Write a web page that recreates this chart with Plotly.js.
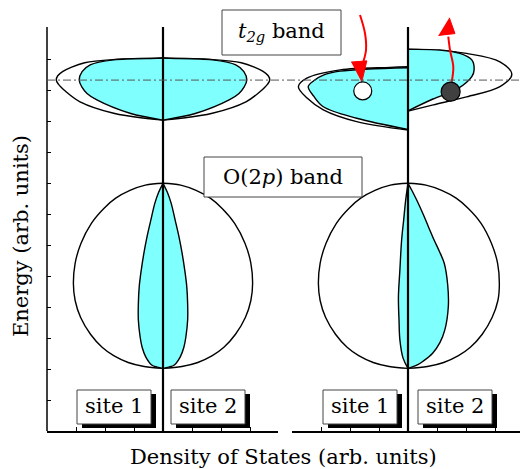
<!DOCTYPE html>
<html>
<head>
<meta charset="utf-8">
<script src="https://cdn.plot.ly/plotly-3.0.1.min.js"></script>
<style>html,body{margin:0;padding:0;background:#fff;}#chart{width:520px;height:469px;}</style>
</head>
<body>
<div id="chart"></div>
<script>
// ---- Band profiles: energy (arb.) and density of states (arb.) ----
// Left panel, t2g band (both sites identical)
const t2gOuterE = [10.03, 10.08, 10.25, 10.62, 10.95, 11.18, 11.32, 11.46, 11.60, 11.74, 11.88, 11.98, 12.03];
const t2gOuterD = [0, 0.55, 1.70, 2.86, 3.35, 3.60, 3.68, 3.63, 3.45, 3.15, 2.70, 1.72, 0];
const t2gFillE  = [10.03, 10.25, 10.68, 10.89, 11.10, 11.32, 11.59, 11.81, 11.97, 12.02, 12.03];
const t2gFillD  = [0, 1.14, 2.28, 2.62, 2.80, 2.89, 2.79, 2.51, 1.70, 0.21, 0];

// Right panel, t2g band, site 1 (shifted down) and site 2 (shifted up)
const s1t2gOuterE = [9.71, 9.98, 10.36, 10.74, 11.11, 11.38, 11.65, 11.73, 11.75];
const s1t2gOuterD = [0, 1.77, 2.92, 3.48, 3.78, 3.49, 2.34, 0.62, 0];
const s1t2gFillE  = [9.73, 10.09, 10.46, 10.80, 11.11, 11.30, 11.48, 11.61, 11.72];
const s1t2gFillD  = [0, 1.77, 2.92, 3.25, 3.44, 3.25, 2.92, 2.34, 0];
const s2t2gOuterE = [10.32, 10.52, 10.78, 11.11, 11.50, 11.91, 12.18, 12.29, 12.32];
const s2t2gOuterD = [0, 0.87, 2.02, 3.17, 3.58, 3.17, 2.02, 0.87, 0];
const s2t2gFillE  = [10.33, 10.71, 11.05, 11.43, 11.65, 11.97, 12.18, 12.29, 12.31];
const s2t2gFillD  = [0, 0.86, 1.73, 2.20, 2.28, 2.20, 1.79, 1.10, 0];

// O(2p) band: total (outer) and site-projected (filled)
const o2pOuterE = [2.02, 2.08, 2.21, 2.43, 2.70, 3.12, 3.66, 4.21, 4.76, 5.41, 6.05, 6.70, 7.18, 7.51, 7.76, 7.93, 7.99];
const o2pOuterD = [0, 0.65, 1.20, 1.70, 2.10, 2.50, 2.84, 3.03, 3.09, 3.03, 2.83, 2.47, 2.04, 1.63, 1.14, 0.61, 0];
const o2pRightD = [0, 0.67, 1.23, 1.74, 2.15, 2.56, 2.90, 3.10, 3.15, 3.09, 2.88, 2.52, 2.08, 1.66, 1.16, 0.62, 0];
const o2pFillE  = [2.02, 2.06, 2.13, 2.40, 2.70, 3.04, 3.58, 4.10, 4.65, 5.19, 5.73, 6.27, 6.80, 7.35, 7.70, 7.99];
const o2pFillD  = [0, 0.20, 0.39, 0.60, 0.72, 0.79, 0.85, 0.85, 0.82, 0.75, 0.66, 0.55, 0.42, 0.28, 0.15, 0];
const s1o2pFillE = [2.02, 2.35, 2.94, 3.58, 4.33, 5.19, 6.16, 6.80, 7.45, 7.99];
const s1o2pFillD = [0, 0.17, 0.28, 0.31, 0.33, 0.28, 0.22, 0.15, 0.08, 0];
const s2o2pFillE = [2.02, 2.13, 2.25, 2.51, 2.85, 3.26, 4.01, 4.70, 5.41, 5.80, 6.16, 6.60, 7.00, 7.45, 7.75, 7.99];
const s2o2pFillD = [0, 0.32, 0.52, 0.85, 1.10, 1.27, 1.39, 1.37, 1.25, 1.08, 0.90, 0.70, 0.52, 0.30, 0.14, 0];

const fermiE = 11.32;

// Hole / electron and their arrows (right panel)
const holeX = [-1.56], holeY = [10.97];
const elecX = [1.47],  elecY = [10.945];
const downArrowX = [-1.655, -1.483, -1.448, -1.541];
const downArrowY = [13.42, 12.83, 12.29, 11.91];
const downHeadX = [-1.96, -1.42, -1.597];
const downHeadY = [11.90, 11.94, 11.25];
const upArrowX = [1.507, 1.562, 1.448, 1.390];
const upArrowY = [11.26, 11.75, 12.29, 12.72];
const upHeadX = [1.05, 1.62, 1.424];
const upHeadY = [12.76, 12.82, 13.33];

// Labels
const siteLabels = ['site 1', 'site 2', 'site 1', 'site 2'];
const xTitle = 'Density of States (arb. units)';
const yTitle = 'Energy (arb. units)';

const cyan = '#80ffff';
const FONT = 'DejaVu Serif, Liberation Serif, serif';

function half(E, D, side, axis, filled) {
  return {
    x: D.map(d => side * d), y: E, xaxis: axis, yaxis: 'y',
    type: 'scatter', mode: 'lines',
    line: {shape: 'spline', smoothing: 1, color: 'black', width: 1.4},
    fill: filled ? 'toself' : 'none', fillcolor: cyan,
    hoverinfo: 'skip'
  };
}

const traces = [
  // left panel
  half(t2gOuterE, t2gOuterD, -1, 'x', false),
  half(t2gOuterE, t2gOuterD, 1, 'x', false),
  half(t2gFillE, t2gFillD, -1, 'x', true),
  half(t2gFillE, t2gFillD, 1, 'x', true),
  half(o2pOuterE, o2pOuterD, -1, 'x', false),
  half(o2pOuterE, o2pOuterD, 1, 'x', false),
  half(o2pFillE, o2pFillD, -1, 'x', true),
  half(o2pFillE, o2pFillD, 1, 'x', true),
  // right panel
  half(s1t2gOuterE, s1t2gOuterD, -1, 'x2', false),
  half(s2t2gOuterE, s2t2gOuterD, 1, 'x2', false),
  half(s1t2gFillE, s1t2gFillD, -1, 'x2', true),
  half(s2t2gFillE, s2t2gFillD, 1, 'x2', true),
  half(o2pOuterE, o2pOuterD, -1, 'x2', false),
  half(o2pOuterE, o2pRightD, 1, 'x2', false),
  half(s1o2pFillE, s1o2pFillD, -1, 'x2', true),
  half(s2o2pFillE, s2o2pFillD, 1, 'x2', true),
  // arrows
  {x: downArrowX, y: downArrowY, xaxis: 'x2', yaxis: 'y', type: 'scatter', mode: 'lines',
   line: {shape: 'spline', color: '#ff0000', width: 2}, hoverinfo: 'skip'},
  {x: downHeadX, y: downHeadY, xaxis: 'x2', yaxis: 'y', type: 'scatter', mode: 'lines',
   fill: 'toself', fillcolor: '#ff0000', line: {color: '#ff0000', width: 1}, hoverinfo: 'skip'},
  {x: upArrowX, y: upArrowY, xaxis: 'x2', yaxis: 'y', type: 'scatter', mode: 'lines',
   line: {shape: 'spline', color: '#ff0000', width: 2}, hoverinfo: 'skip'},
  {x: upHeadX, y: upHeadY, xaxis: 'x2', yaxis: 'y', type: 'scatter', mode: 'lines',
   fill: 'toself', fillcolor: '#ff0000', line: {color: '#ff0000', width: 1}, hoverinfo: 'skip'},
  // hole and electron
  {x: holeX, y: holeY, xaxis: 'x2', yaxis: 'y', type: 'scatter', mode: 'markers',
   marker: {size: 18, color: 'white', line: {color: 'black', width: 1.2}}, hoverinfo: 'skip'},
  {x: elecX, y: elecY, xaxis: 'x2', yaxis: 'y', type: 'scatter', mode: 'markers',
   marker: {size: 19, color: '#404040', line: {color: 'black', width: 1.2}}, hoverinfo: 'skip'}
];

// pixel helpers for label placement (plot area: x from 47px, 473px wide; y 0..431px)
const px = v => (v - 47) / 473;
const py = v => (431 - v) / 31;
const pp = v => (431 - v) / 431;

const shapes = [
  // y axis line
  {type: 'line', xref: 'paper', yref: 'y', x0: 0, x1: 0, y0: 0, y1: py(27), line: {color: 'black', width: 1.5}, layer: 'above'},
  // centre lines
  {type: 'line', xref: 'x', yref: 'y', x0: 0, x1: 0, y0: 0, y1: py(27), line: {color: 'black', width: 2.2}, layer: 'above'},
  {type: 'line', xref: 'x2', yref: 'y', x0: 0, x1: 0, y0: 0, y1: py(27), line: {color: 'black', width: 2.2}, layer: 'above'},
  // Fermi level
  {type: 'line', xref: 'paper', yref: 'y', x0: 0, x1: 1, y0: fermiE, y1: fermiE,
   line: {color: '#555', width: 1, dash: '8px,3px,2px,3px'}, layer: 'above'},
  // title boxes
  {type: 'rect', xref: 'paper', yref: 'y', x0: px(222), x1: px(341), y0: py(55), y1: py(10),
   line: {color: '#444', width: 1}, fillcolor: 'white', layer: 'above'},
  {type: 'rect', xref: 'paper', yref: 'y', x0: px(204), x1: px(362), y0: py(197), y1: py(157),
   line: {color: '#444', width: 1}, fillcolor: 'white', layer: 'above'}
];

const siteBoxX = [[77, 151], [171, 245], [323, 397], [418, 492]];
const annotations = [];
siteBoxX.forEach((b, i) => {
  shapes.push({type: 'rect', xref: 'paper', yref: 'y', x0: px(b[0] + 5), x1: px(b[1] + 5), y0: py(428), y1: py(394),
    line: {width: 0}, fillcolor: 'black', layer: 'above'});
  shapes.push({type: 'rect', xref: 'paper', yref: 'y', x0: px(b[0]), x1: px(b[1]), y0: py(424), y1: py(390),
    line: {color: '#444', width: 1}, fillcolor: 'white', layer: 'above'});
  annotations.push({xref: 'paper', yref: 'y', x: px((b[0] + b[1]) / 2), y: py(406), text: siteLabels[i],
    showarrow: false, font: {family: FONT, size: 21, color: 'black'}, xanchor: 'center', yanchor: 'middle'});
});

annotations.push(
  {xref: 'paper', yref: 'y', x: px(281.5), y: py(32), text: '<i>t</i><sub><i>2g</i></sub> band', showarrow: false,
   font: {family: FONT, size: 21, color: 'black'}, xanchor: 'center', yanchor: 'middle'},
  {xref: 'paper', yref: 'y', x: px(283), y: py(177), text: 'O(2<i>p</i>) band', showarrow: false,
   font: {family: FONT, size: 21, color: 'black'}, xanchor: 'center', yanchor: 'middle'},
  {xref: 'paper', yref: 'paper', x: px(283), y: pp(457), text: xTitle, showarrow: false,
   font: {family: FONT, size: 21, color: 'black'}, xanchor: 'center', yanchor: 'middle'},
  {xref: 'paper', yref: 'paper', x: px(21), y: pp(236), text: yTitle, showarrow: false, textangle: -90,
   font: {family: FONT, size: 21, color: 'black'}, xanchor: 'center', yanchor: 'middle'}
);

const xCommon = {
  showline: true, linecolor: 'black', linewidth: 1.5,
  ticks: 'inside', ticklen: 4, tickwidth: 1, tickcolor: 'black',
  tickvals: [-3, -2, -1, 0, 1, 2, 3], showticklabels: false,
  showgrid: false, zeroline: false, fixedrange: true, anchor: 'y'
};

const layout = {
  width: 520, height: 469,
  margin: {l: 47, r: 0, t: 0, b: 38},
  paper_bgcolor: 'white', plot_bgcolor: 'white',
  showlegend: false, hovermode: false,
  xaxis: Object.assign({}, xCommon, {domain: [0, 231 / 473], range: [-4, 115 / 29]}),
  xaxis2: Object.assign({}, xCommon, {domain: [245 / 473, 1], range: [-4, 112 / 29]}),
  yaxis: {range: [0, 431 / 31], showline: false, ticks: 'inside', ticklen: 4, tickwidth: 1, tickcolor: 'black',
          tickvals: [1, 2, 3, 4, 5, 6, 7, 8, 9, 10, 11, 12], showticklabels: false,
          showgrid: false, zeroline: false, fixedrange: true},
  shapes: shapes,
  annotations: annotations
};

Plotly.newPlot('chart', traces, layout, {staticPlot: true, displayModeBar: false});
</script>
</body>
</html>
